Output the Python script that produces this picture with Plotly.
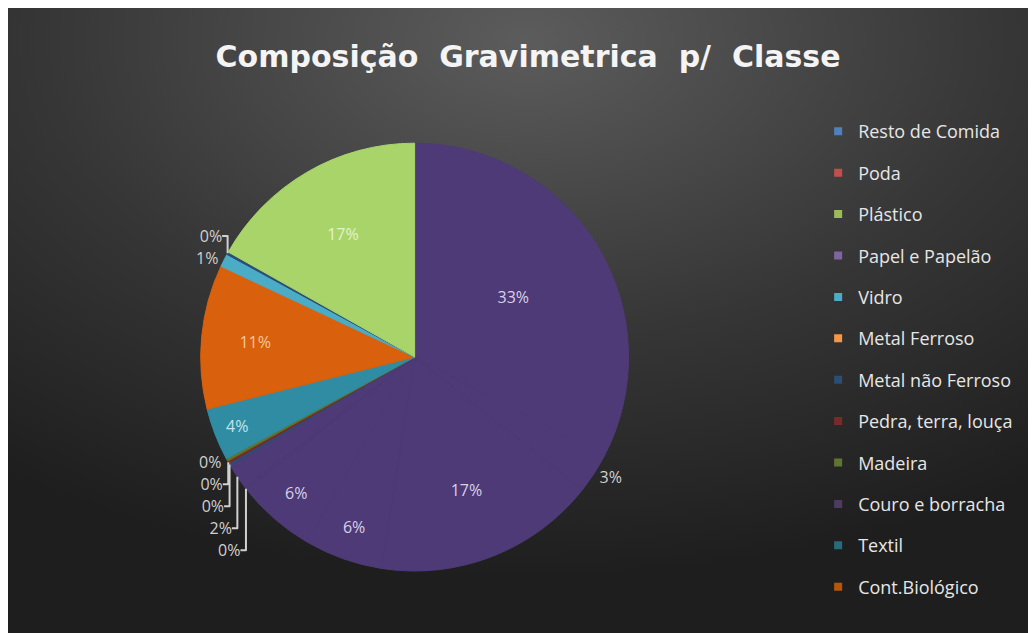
import base64
import plotly.graph_objects as go

# legend entries (as shown in the chart legend)
categorias = [
    "Resto de Comida", "Poda", "Plástico", "Papel e Papelão", "Vidro",
    "Metal Ferroso", "Metal não Ferroso", "Pedra, terra, louça", "Madeira",
    "Couro e borracha", "Textil", "Cont.Biológico",
]
cores_legenda = [
    "#4f81bd", "#c0504d", "#9bbb59", "#8064a2", "#4bacc6", "#f79646",
    "#2c4d75", "#772c2a", "#5f7530", "#4d3b62", "#276a7c", "#b65708",
]

# slices, clockwise from 12 o'clock
fatias = ["f01", "f02", "f03", "f04", "f05", "f06", "f07", "f08", "f09",
          "f10", "f11", "f12", "f13", "f14", "f15"]
valores = [33, 3, 17, 6, 6, 0.2, 2, 0.2, 0.2, 0.2, 4, 11, 1, 0.2, 17]
rotulos = ["33%", "3%", "17%", "6%", "6%", "0%", "2%", "0%", "0%", "0%",
           "4%", "11%", "1%", "0%", "17%"]
roxo = "#4e3a76"
cores_fatias = [roxo, roxo, roxo, roxo, roxo, roxo, roxo, "#2c4d75", "#772c2a",
                "#5f7530", "#2f8ca3", "#d9600c", "#4bacc6", "#2c4d75", "#a9d46a"]
posicoes = ["inside", "outside", "inside", "inside", "inside", "outside",
            "outside", "outside", "outside", "outside", "inside", "inside",
            "outside", "outside", "inside"]
cores_texto = ["#d8d0ea", "#d0d0d0", "#d8d0ea", "#d8d0ea", "#d8d0ea", "#d0d0d0",
               "#d0d0d0", "#d0d0d0", "#d0d0d0", "#d0d0d0", "#bfe6f0", "#f7c89a",
               "#d0d0d0", "#d0d0d0", "#e4f2cc"]

W, H = 1036, 633

# fundo com gradiente (imagem svg embutida)
svg = f"""<svg xmlns='http://www.w3.org/2000/svg' width='{W}' height='{H}'>
<defs><radialGradient id='g' cx='0.5' cy='0.05' r='0.85'>
<stop offset='0' stop-color='#5c5c5c'/><stop offset='0.55' stop-color='#363636'/>
<stop offset='1' stop-color='#1e1e1e'/></radialGradient></defs>
<rect width='{W}' height='{H}' fill='url(#g)'/>
</svg>"""
fundo = "data:image/svg+xml;base64," + base64.b64encode(svg.encode()).decode()

fig = go.Figure()

fig.add_trace(go.Pie(
    labels=fatias,
    values=valores,
    text=rotulos,
    texttemplate="%{text}",
    textposition=posicoes,
    textfont=dict(family="Open Sans", size=16, color=cores_texto),
    outsidetextfont=dict(family="Open Sans", size=16, color="#d0d0d0"),
    sort=False,
    direction="clockwise",
    rotation=0,
    marker=dict(colors=cores_fatias, line=dict(color=cores_fatias, width=1)),
    domain=dict(x=[0.186, 0.599], y=[0.110, 0.787]),
    showlegend=False,
    hoverinfo="skip",
))

for i, (nome, cor) in enumerate(zip(categorias, cores_legenda)):
    fig.add_trace(go.Scatter(
        x=[None], y=[None], mode="markers", name=nome,
        legendgroup=str(i),
        marker=dict(symbol="square", size=8, color=cor),
    ))

fig.update_layout(
    width=W, height=H,
    margin=dict(l=0, r=0, t=0, b=0),
    paper_bgcolor="#2a2a2a",
    plot_bgcolor="rgba(0,0,0,0)",
    xaxis=dict(visible=False),
    yaxis=dict(visible=False),
    images=[dict(source=fundo, xref="paper", yref="paper", x=0, y=1,
                 sizex=1, sizey=1, sizing="stretch", layer="below")],
    title=dict(
        text="Composição  Gravimetrica  p/  Classe",
        x=0.502, xanchor="center", y=0.923, yanchor="middle",
        font=dict(family="DejaVu Sans", size=30, color="#f4f4f4", weight="bold"),
    ),
    legend=dict(
        x=0.782, y=0.834, xanchor="left", yanchor="top",
        font=dict(family="Open Sans", size=18, color="#e6e6e6"),
        bgcolor="rgba(0,0,0,0)",
        traceorder="grouped",
        tracegroupgap=15,
        itemwidth=30,
    ),
)

fig.write_html("out.html")
